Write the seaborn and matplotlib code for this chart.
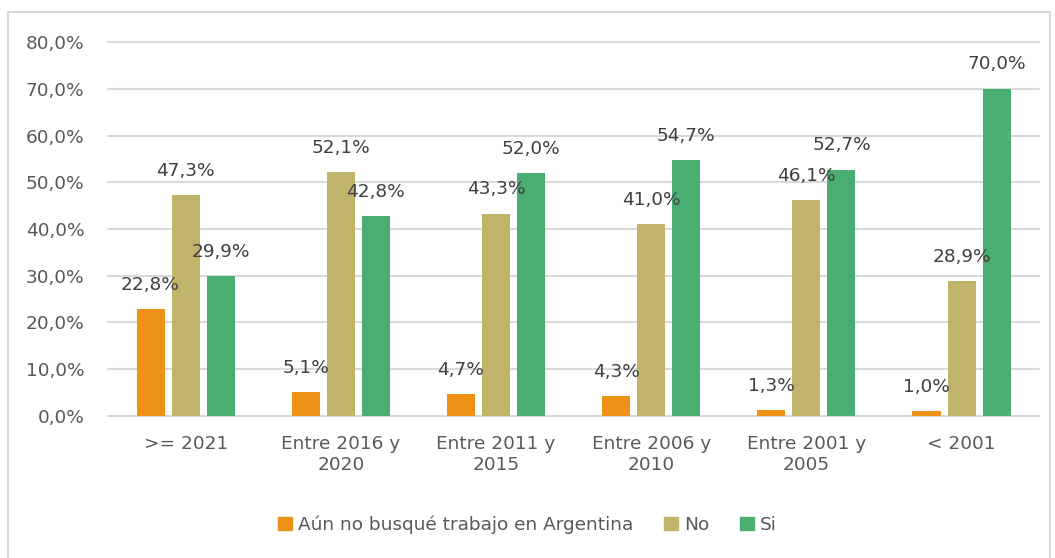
import matplotlib
matplotlib.use("Agg")
import matplotlib.pyplot as plt
import matplotlib.patches as mpatches
import seaborn as sns
import pandas as pd

# Datos
categorias = [">= 2021", "Entre 2016 y\n2020", "Entre 2011 y\n2015",
              "Entre 2006 y\n2010", "Entre 2001 y\n2005", "< 2001"]
series = ["Aún no busqué trabajo en Argentina", "No", "Si"]
aun_no = [22.8, 5.1, 4.7, 4.3, 1.3, 1.0]
no = [47.3, 52.1, 43.3, 41.0, 46.1, 28.9]
si = [29.9, 42.8, 52.0, 54.7, 52.7, 70.0]
colores = ["#EE9217", "#C0B46B", "#4AAE72"]

filas = []
for serie, valores in zip(series, [aun_no, no, si]):
    for cat, v in zip(categorias, valores):
        filas.append({"categoria": cat, "serie": serie, "valor": v})
df = pd.DataFrame(filas)

sns.set_style("white")
plt.rcParams['font.family'] = ['DejaVu Sans']

fig = plt.figure(figsize=(10.55, 5.58), dpi=100)
ax = fig.add_axes([0.1024, 0.2545, 0.8826, 0.6702])

sns.barplot(data=df, x="categoria", y="valor", hue="serie", order=categorias,
            hue_order=series, palette=colores, width=0.678, gap=0.2,
            saturation=1, linewidth=0, ax=ax, legend=False)

# Etiquetas de datos
for cont, valores in zip(ax.containers, [aun_no, no, si]):
    ax.bar_label(cont, labels=[f"{v:.1f}%".replace(".", ",") for v in valores],
                 padding=11, fontsize=13.3, color="#404040")

ax.set_ylim(0, 80)
ax.set_xlim(-0.5, 5.5)
ax.set_yticks(range(0, 81, 10))
ax.set_yticklabels([f"{t},0%" for t in range(0, 81, 10)])
ax.yaxis.grid(True, color="#D9D9D9", linewidth=1.5)
for gl in ax.yaxis.get_gridlines():
    gl.set_clip_on(False)
ax.set_axisbelow(True)
for s in ["top", "right", "left", "bottom"]:
    ax.spines[s].set_visible(False)
ax.tick_params(axis="both", length=0, labelsize=13.3, labelcolor="#595959")
ax.tick_params(axis="y", pad=17)
ax.tick_params(axis="x", pad=14)
ax.set_xlabel("")
ax.set_ylabel("")

# Leyenda
handles = [mpatches.Patch(color=c, label=s) for c, s in zip(colores, series)]
fig.legend(handles=handles, loc="center", bbox_to_anchor=(0.5, 0.06), ncol=3,
           frameon=False, fontsize=13.3, handlelength=0.75, handleheight=0.75,
           handletextpad=0.3, columnspacing=1.7, labelcolor="#595959")

# Borde del gráfico
fig.patches.append(mpatches.Rectangle((8 / 1055, -0.01), 1042 / 1055, 1 - 12 / 558 + 0.01,
                                      transform=fig.transFigure, fill=False,
                                      edgecolor="#D9D9D9", linewidth=1.5))

fig.savefig("out.png", dpi=100)
